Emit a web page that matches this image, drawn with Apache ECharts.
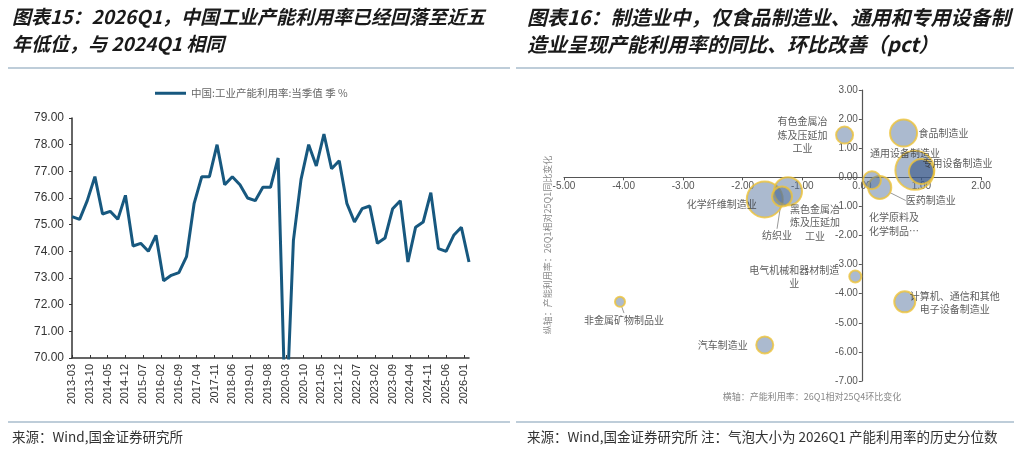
<!DOCTYPE html>
<html><head><meta charset="utf-8">
<script src="https://cdn.jsdelivr.net/npm/echarts@6/dist/echarts.min.js"></script>
<style>html,body{margin:0;padding:0;background:#fff}#c{width:1024px;height:457px}</style>
</head><body><div id="c"></div>
<script>
// ---------- Left chart data: quarterly industrial capacity utilization (%) ----------
const firstYear = 2013, firstMonth = 3, lastYear = 2026, lastMonth = 3;
const utilization = [
  75.3,75.2,75.9,76.8,  75.4,75.5,75.2,76.1,  74.2,74.3,74.0,74.6,
  72.9,73.1,73.2,73.8,  75.8,76.8,76.8,78.0,  76.5,76.8,76.5,76.0,
  75.9,76.4,76.4,77.5,  67.3,74.4,76.7,78.0,  77.2,78.4,77.1,77.4,
  75.8,75.1,75.6,75.7,  74.3,74.5,75.6,75.9,  73.6,74.9,75.1,76.2,
  74.1,74.0,74.6,74.9,  73.6
];
const leftYTicks = {min: 70, max: 79, step: 1};
const legendName = '中国:工业产能利用率:当季值 季 %';

// ---------- Right chart data: bubble chart ----------
const industries = ['有色金属冶炼及压延加工','食品制造业','通用设备制造业','专用设备制造业','医药制造业',
  '化学原料及化学制品制造业','化学纤维制造业','黑色金属冶炼及压延加工','纺织业','电气机械和器材制造业',
  '计算机、通信和其他电子设备制造业','非金属矿物制品业','汽车制造业'];
const labelTexts = ['有色金属冶\n炼及压延加\n工业','食品制造业','通用设备制造业','专用设备制造业','医药制造业',
  '化学原料及\n化学制品…','化学纤维制造业','黑色金属冶\n炼及压延加\n工业','纺织业','电气机械和器材制造\n业',
  '计算机、通信和其他\n电子设备制造业','非金属矿物制品业','汽车制造业'];
const qoqChange = [-0.29, 0.70, 0.89, 1.00, 0.30, 0.17, -1.63, -1.24, -1.34, -0.11, 0.72, -4.06, -1.63];
const yoyChange = [ 1.45, 1.52, 0.24, 0.20, -0.35, -0.10, -0.76, -0.48, -0.66, -3.41, -4.28, -4.28, -5.76];
const percentile = [19, 48, 100, 41, 35, 21, 85, 52, 26, 9.5, 29, 6.6, 19];
const rightX = {min: -5, max: 2, step: 1};
const rightY = {min: -7, max: 3, step: 1};

// ---------- styles (not data) ----------
const labelStyle = {
  '有色金属冶炼及压延加工': {offset: [-42, 0], align: 'center'},
  '食品制造业': {offset: [40, 0], align: 'center'},
  '通用设备制造业': {offset: [-10, -17], align: 'center'},
  '专用设备制造业': {offset: [36, -8], align: 'center'},
  '医药制造业': {offset: [51, 13], align: 'center', line: true},
  '化学原料及化学制品制造业': {offset: [-3, 44], align: 'left'},
  '化学纤维制造业': {offset: [-43, 5], align: 'center'},
  '黑色金属冶炼及压延加工': {offset: [27, 31], align: 'center'},
  '纺织业': {offset: [-5, 39], align: 'center', line: true},
  '电气机械和器材制造业': {offset: [-61, 0], align: 'center'},
  '计算机、通信和其他电子设备制造业': {offset: [50, 1], align: 'center'},
  '非金属矿物制品业': {offset: [4, 18], align: 'center', line: true},
  '汽车制造业': {offset: [-42, 0], align: 'center'}
};
const darkFill = {'专用设备制造业': 'rgba(55,85,135,0.78)'};
const CJK = '"Noto Sans CJK SC", "Noto Sans", sans-serif';
const ARIAL = '"Liberation Sans", Arial, sans-serif';
const rightGrid = {left: 564, width: 417, top: 90, height: 291};

// build monthly category axis, values at quarter months
const months = [], lineData = [];
let y = firstYear, m = firstMonth, qi = 0, k = 0;
while (y < lastYear || (y === lastYear && m <= lastMonth)) {
  months.push(y + '-' + String(m).padStart(2, '0'));
  lineData.push(k % 3 === 0 ? utilization[qi++] : null);
  k++; m++; if (m > 12) { m = 1; y++; }
}

// axes cross at zero: shift axes inward by the zero position inside the grid
const yAxisShift = -(0 - rightX.min) / (rightX.max - rightX.min) * rightGrid.width;
const xAxisShift = -(0 - rightY.min) / (rightY.max - rightY.min) * rightGrid.height;

const bubbles = industries.map((name, i) => {
  const ls = labelStyle[name];
  const item = {
    name: name,
    value: [qoqChange[i], yoyChange[i], percentile[i]],
    symbolSize: 39 * Math.sqrt(percentile[i] / 100),
    label: {
      show: true, position: 'inside', formatter: labelTexts[i], offset: ls.offset,
      align: ls.align, verticalAlign: 'middle', fontSize: 10, lineHeight: 13.5,
      color: '#333', fontFamily: CJK
    }
  };
  if (darkFill[name]) item.itemStyle = {color: darkFill[name]};
  if (ls.line) item.labelLine = {show: true, lineStyle: {color: '#999', width: 1}};
  return item;
}).sort((a, b) => b.symbolSize - a.symbolSize);

const chart = echarts.init(document.getElementById('c'));
chart.setOption({
  animation: false,
  textStyle: {fontFamily: ARIAL},
  legend: {
    data: [legendName], left: 150, top: 83, icon: 'rect', itemWidth: 31, itemHeight: 3, itemGap: 4,
    textStyle: {fontSize: 10.5, color: '#666', fontFamily: CJK}
  },
  grid: [
    {left: 72, right: 1024 - 469, top: 118, bottom: 457 - 358},
    rightGrid
  ],
  xAxis: [
    {
      gridIndex: 0, type: 'category', data: months, boundaryGap: false,
      axisLine: {lineStyle: {color: '#333', width: 1.5}},
      axisTick: {interval: 6, inside: true, length: 3, lineStyle: {color: '#333'}},
      axisLabel: {interval: 6, rotate: 90, fontSize: 11, color: '#333', margin: 6, fontFamily: ARIAL},
      splitLine: {show: false}
    },
    {
      gridIndex: 1, type: 'value', min: rightX.min, max: rightX.max, interval: rightX.step,
      position: 'bottom', offset: xAxisShift,
      axisLine: {onZero: false, lineStyle: {color: '#555', width: 1.2}},
      axisTick: {show: true, length: 3, lineStyle: {color: '#555'}},
      axisLabel: {formatter: v => v.toFixed(2), fontSize: 10, color: '#555', margin: 4, fontFamily: ARIAL},
      splitLine: {show: false}
    }
  ],
  yAxis: [
    {
      gridIndex: 0, type: 'value', min: leftYTicks.min, max: leftYTicks.max, interval: leftYTicks.step,
      axisLine: {show: true, lineStyle: {color: '#333', width: 1.5}},
      axisTick: {show: true, length: 3, lineStyle: {color: '#333'}},
      axisLabel: {formatter: v => v.toFixed(2), fontSize: 12, color: '#333', margin: 8, fontFamily: ARIAL},
      splitLine: {show: false}
    },
    {
      gridIndex: 1, type: 'value', min: rightY.min, max: rightY.max, interval: rightY.step,
      position: 'left', offset: yAxisShift,
      axisLine: {show: true, onZero: false, lineStyle: {color: '#555', width: 1.2}},
      axisTick: {show: true, length: 3, lineStyle: {color: '#555'}},
      axisLabel: {formatter: v => v.toFixed(2), fontSize: 10, color: '#555', margin: 4, fontFamily: ARIAL},
      splitLine: {show: false}
    }
  ],
  series: [
    {
      name: legendName, type: 'line', xAxisIndex: 0, yAxisIndex: 0, data: lineData,
      connectNulls: true, showSymbol: false, symbol: 'none',
      lineStyle: {color: '#17587F', width: 3}, itemStyle: {color: '#17587F'}
    },
    {
      name: 'bubbles', type: 'scatter', xAxisIndex: 1, yAxisIndex: 1, data: bubbles,
      itemStyle: {color: 'rgba(80,110,155,0.6)', borderColor: '#EDC33A', borderWidth: 2},
      labelLine: {show: false},
      emphasis: {disabled: true}
    }
  ],
  graphic: [
    {type: 'text', left: 12, top: 7, style: {text: '图表15：2026Q1，中国工业产能利用率已经回落至近五', fontSize: 19, fontWeight: 'bold', fontStyle: 'italic', fill: '#1a1a1a', fontFamily: CJK}},
    {type: 'text', left: 12, top: 34, style: {text: '年低位，与 2024Q1 相同', fontSize: 19, fontWeight: 'bold', fontStyle: 'italic', fill: '#1a1a1a', fontFamily: CJK}},
    {type: 'text', left: 527, top: 7, style: {text: '图表16：制造业中，仅食品制造业、通用和专用设备制', fontSize: 20, fontWeight: 'bold', fontStyle: 'italic', fill: '#1a1a1a', fontFamily: CJK}},
    {type: 'text', left: 527, top: 34, style: {text: '造业呈现产能利用率的同比、环比改善（pct）', fontSize: 20, fontWeight: 'bold', fontStyle: 'italic', fill: '#1a1a1a', fontFamily: CJK}},
    {type: 'line', shape: {x1: 8, y1: 68, x2: 510, y2: 68}, style: {stroke: '#A9BDCC', lineWidth: 1.5}},
    {type: 'line', shape: {x1: 516, y1: 68, x2: 1014, y2: 68}, style: {stroke: '#A9BDCC', lineWidth: 1.5}},
    {type: 'line', shape: {x1: 8, y1: 422, x2: 510, y2: 422}, style: {stroke: '#A9BDCC', lineWidth: 1.5}},
    {type: 'line', shape: {x1: 516, y1: 422, x2: 1014, y2: 422}, style: {stroke: '#A9BDCC', lineWidth: 1.5}},
    {type: 'text', left: 12, top: 430, style: {text: '来源：Wind,国金证券研究所', fontSize: 13.5, fill: '#333', fontFamily: CJK}},
    {type: 'text', left: 527, top: 430, style: {text: '来源：Wind,国金证券研究所 注：气泡大小为 2026Q1 产能利用率的历史分位数', fontSize: 13.5, fill: '#333', fontFamily: CJK}},
    {type: 'text', x: 812, y: 397, style: {text: '横轴：产能利用率：26Q1相对25Q4环比变化', fontSize: 9, fill: '#888', align: 'center', verticalAlign: 'middle', fontFamily: CJK}},
    {type: 'text', x: 548, y: 245, rotation: Math.PI / 2, style: {text: '纵轴：产能利用率：26Q1相对25Q1同比变化', fontSize: 9, fill: '#888', align: 'center', verticalAlign: 'middle', fontFamily: CJK}}
  ]
});
</script>
</body></html>
